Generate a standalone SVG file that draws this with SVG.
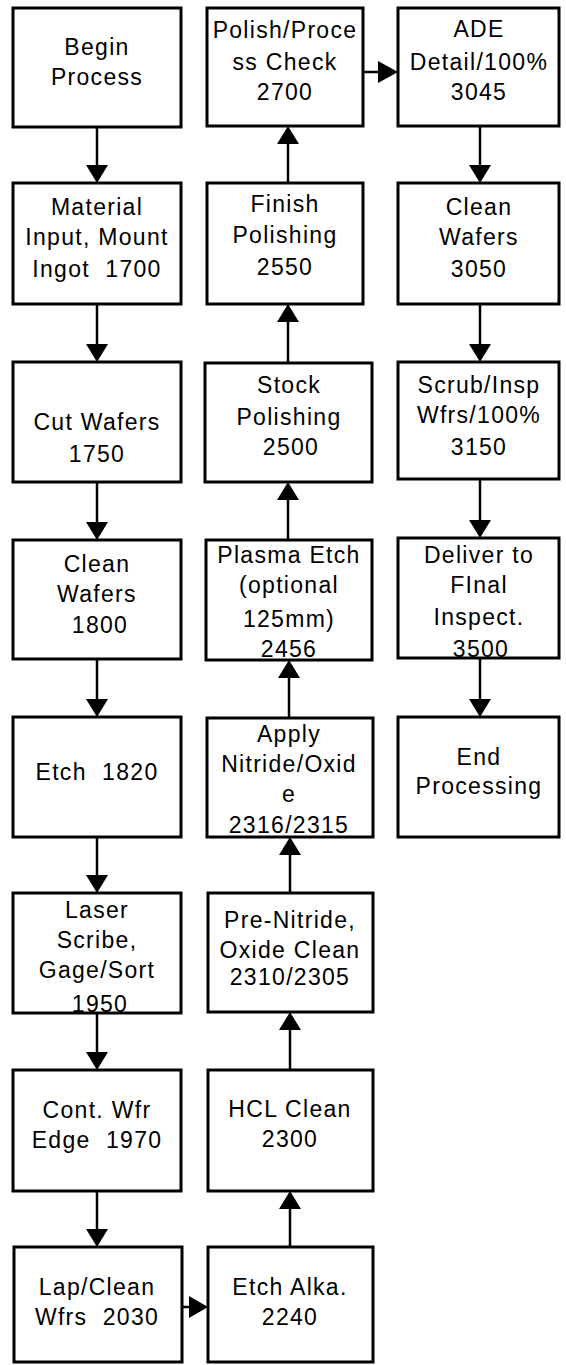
<svg xmlns="http://www.w3.org/2000/svg" width="566" height="1365" viewBox="0 0 566 1365">
<style>
.b{fill:#fff;stroke:#000;stroke-width:3}
.t{font-family:"Liberation Sans",Arial,sans-serif;font-size:23px;letter-spacing:1.3px;fill:#000;text-anchor:middle}
.c{stroke:#000;stroke-width:2.5;fill:none}
.h{fill:#000}
</style>
<rect width="566" height="1365" fill="#fff"/>
<g id="connectors">
<line class="c" x1="97" y1="127" x2="97" y2="168"/><polygon class="h" points="86,165 108,165 97,183"/>
<line class="c" x1="97" y1="304" x2="97" y2="347"/><polygon class="h" points="86,344 108,344 97,362"/>
<line class="c" x1="97" y1="482" x2="97" y2="525"/><polygon class="h" points="86,522 108,522 97,540"/>
<line class="c" x1="97" y1="659" x2="97" y2="702"/><polygon class="h" points="86,699 108,699 97,717"/>
<line class="c" x1="97" y1="837" x2="97" y2="878"/><polygon class="h" points="86,875 108,875 97,893"/>
<line class="c" x1="97" y1="1013" x2="97" y2="1055"/><polygon class="h" points="86,1052 108,1052 97,1070"/>
<line class="c" x1="97" y1="1191" x2="97" y2="1232"/><polygon class="h" points="86,1229 108,1229 97,1247"/>
<line class="c" x1="182" y1="1307" x2="192" y2="1307"/><polygon class="h" points="189,1296 189,1318 208,1307"/>
<line class="c" x1="290" y1="1247" x2="290" y2="1206"/><polygon class="h" points="279,1209 301,1209 290,1191"/>
<line class="c" x1="290" y1="1070" x2="290" y2="1027"/><polygon class="h" points="279,1030 301,1030 290,1012"/>
<line class="c" x1="290" y1="893" x2="290" y2="852"/><polygon class="h" points="279,855 301,855 290,837"/>
<line class="c" x1="289" y1="718" x2="289" y2="675"/><polygon class="h" points="278,678 300,678 289,660"/>
<line class="c" x1="288" y1="540" x2="288" y2="497"/><polygon class="h" points="277,500 299,500 288,482"/>
<line class="c" x1="288" y1="363" x2="288" y2="319"/><polygon class="h" points="277,322 299,322 288,304"/>
<line class="c" x1="288" y1="183" x2="288" y2="141"/><polygon class="h" points="277,144 299,144 288,126"/>
<line class="c" x1="363" y1="72" x2="382" y2="72"/><polygon class="h" points="378,61 378,83 398,72"/>
<line class="c" x1="480" y1="126" x2="480" y2="168"/><polygon class="h" points="469,165 491,165 480,183"/>
<line class="c" x1="480" y1="304" x2="480" y2="347"/><polygon class="h" points="469,344 491,344 480,362"/>
<line class="c" x1="480" y1="479" x2="480" y2="523"/><polygon class="h" points="469,520 491,520 480,538"/>
<line class="c" x1="480" y1="658" x2="480" y2="702"/><polygon class="h" points="469,699 491,699 480,717"/>
</g>
<g id="begin"><rect class="b" x="13" y="8" width="168" height="119"/><text class="t" x="97" y="55">Begin</text><text class="t" x="97" y="85">Process</text></g>
<g id="n1700"><rect class="b" x="13" y="183" width="168" height="121"/><text class="t" x="97" y="215">Material</text><text class="t" x="97" y="245">Input, Mount</text><text class="t" x="97" y="277">Ingot&#160; 1700</text></g>
<g id="n1750"><rect class="b" x="13" y="362" width="168" height="120"/><text class="t" x="97" y="430">Cut Wafers</text><text class="t" x="97" y="462">1750</text></g>
<g id="n1800"><rect class="b" x="13" y="540" width="168" height="119"/><text class="t" x="97" y="572">Clean</text><text class="t" x="97" y="602">Wafers</text><text class="t" x="100" y="633">1800</text></g>
<g id="n1820"><rect class="b" x="13" y="717" width="168" height="120"/><text class="t" x="97" y="780">Etch&#160; 1820</text></g>
<g id="n1950"><rect class="b" x="13" y="893" width="168" height="120"/><text class="t" x="97" y="918">Laser</text><text class="t" x="97" y="948">Scribe,</text><text class="t" x="97" y="978">Gage/Sort</text><text class="t" x="100" y="1012">1950</text></g>
<g id="n1970"><rect class="b" x="13" y="1070" width="168" height="121"/><text class="t" x="97" y="1118">Cont. Wfr</text><text class="t" x="97" y="1148">Edge&#160; 1970</text></g>
<g id="n2030"><rect class="b" x="14" y="1247" width="168" height="115"/><text class="t" x="97" y="1295">Lap/Clean</text><text class="t" x="97" y="1325">Wfrs&#160; 2030</text></g>
<g id="n2240"><rect class="b" x="208" y="1247" width="165" height="115"/><text class="t" x="290" y="1295">Etch Alka.</text><text class="t" x="290" y="1325">2240</text></g>
<g id="n2300"><rect class="b" x="208" y="1070" width="165" height="121"/><text class="t" x="290" y="1117">HCL Clean</text><text class="t" x="290" y="1147">2300</text></g>
<g id="n2310"><rect class="b" x="208" y="893" width="165" height="119"/><text class="t" x="290" y="928">Pre-Nitride,</text><text class="t" x="290" y="958">Oxide Clean</text><text class="t" x="290" y="985">2310/2305</text></g>
<g id="n2316"><rect class="b" x="207" y="718" width="166" height="119"/><text class="t" x="289" y="742">Apply</text><text class="t" x="289" y="772">Nitride/Oxid</text><text class="t" x="289" y="802">e</text><text class="t" x="289" y="833">2316/2315</text></g>
<g id="n2456"><rect class="b" x="206" y="540" width="166" height="120"/><text class="t" x="289" y="563">Plasma Etch</text><text class="t" x="289" y="593">(optional</text><text class="t" x="289" y="627">125mm)</text><text class="t" x="289" y="657">2456</text></g>
<g id="n2500"><rect class="b" x="205" y="363" width="167" height="119"/><text class="t" x="289" y="393">Stock</text><text class="t" x="289" y="425">Polishing</text><text class="t" x="291" y="455">2500</text></g>
<g id="n2550"><rect class="b" x="207" y="183" width="156" height="121"/><text class="t" x="285" y="212">Finish</text><text class="t" x="285" y="243">Polishing</text><text class="t" x="285" y="275">2550</text></g>
<g id="n2700"><rect class="b" x="207" y="8" width="156" height="118"/><text class="t" x="285" y="38">Polish/Proce</text><text class="t" x="285" y="70">ss Check</text><text class="t" x="285" y="100">2700</text></g>
<g id="n3045"><rect class="b" x="398" y="8" width="161" height="118"/><text class="t" x="479" y="37">ADE</text><text class="t" x="479" y="70">Detail/100%</text><text class="t" x="479" y="100">3045</text></g>
<g id="n3050"><rect class="b" x="398" y="183" width="161" height="121"/><text class="t" x="479" y="215">Clean</text><text class="t" x="479" y="245">Wafers</text><text class="t" x="479" y="277">3050</text></g>
<g id="n3150"><rect class="b" x="398" y="362" width="161" height="117"/><text class="t" x="479" y="393">Scrub/Insp</text><text class="t" x="479" y="423">Wfrs/100%</text><text class="t" x="479" y="455">3150</text></g>
<g id="n3500"><rect class="b" x="398" y="538" width="161" height="120"/><text class="t" x="479" y="563">Deliver to</text><text class="t" x="479" y="593">FInal</text><text class="t" x="479" y="625">Inspect.</text><text class="t" x="481" y="657">3500</text></g>
<g id="end"><rect class="b" x="398" y="717" width="161" height="120"/><text class="t" x="479" y="765">End</text><text class="t" x="479" y="794">Processing</text></g>
</svg>
